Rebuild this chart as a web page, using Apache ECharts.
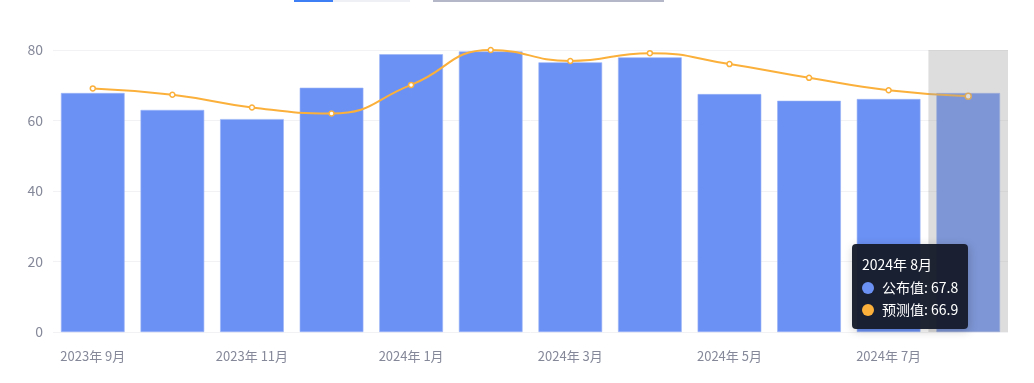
<!DOCTYPE html>
<html>
<head>
<meta charset="utf-8">
<script src="https://cdn.jsdelivr.net/npm/echarts@6/dist/echarts.min.js"></script>
<style>
html,body{margin:0;padding:0;background:#fff;}
#c{width:1034px;height:383px;}
</style>
</head>
<body>
<div id="c"></div>
<script>
const categories = ['2023年 9月','2023年 10月','2023年 11月','2023年 12月','2024年 1月','2024年 2月','2024年 3月','2024年 4月','2024年 5月','2024年 6月','2024年 7月','2024年 8月'];
const publishedValues = [67.8, 63.0, 60.4, 69.3, 78.8, 79.6, 76.5, 77.9, 67.5, 65.6, 66.1, 67.8];
const forecastValues = [69.1, 67.3, 63.7, 62.0, 70.1, 80.0, 76.9, 79.1, 76.0, 72.1, 68.6, 66.9];
const seriesNames = ['公布值', '预测值'];
const colors = ['#6b91f4', '#fbb03b'];

const chart = echarts.init(document.getElementById('c'));
chart.setOption({
  animation: false,
  grid: {left: 53, right: 26, top: 50, bottom: 51},
  graphic: [
    {type: 'rect', shape: {x: 294, y: 0, width: 116, height: 2}, style: {fill: '#eef0f6'}},
    {type: 'rect', shape: {x: 294, y: 0, width: 39, height: 2}, style: {fill: '#3f7ff5'}},
    {type: 'rect', shape: {x: 433, y: 0, width: 231, height: 2}, style: {fill: '#b3b7c8'}}
  ],
  tooltip: {
    trigger: 'axis',
    axisPointer: {type: 'shadow', z: 50, shadowStyle: {color: 'rgba(160,160,160,0.36)'}},
    backgroundColor: 'rgba(22,27,42,0.96)',
    borderWidth: 0,
    padding: [9, 10, 9, 10],
    textStyle: {color: '#fff', fontSize: 14, fontFamily: 'Noto Sans CJK SC'},
    position: function () { return [852, 244]; },
    formatter: function (params) {
      let s = '<div style="line-height:23px">' + params[0].axisValue + '</div>';
      params.forEach(function (p) {
        s += '<div style="line-height:22px"><span style="display:inline-block;width:12px;height:12px;border-radius:6px;background:' + colors[p.seriesIndex] + ';margin-right:8px;vertical-align:-1px"></span>' + p.seriesName + ': ' + p.value + '</div>';
      });
      return s;
    }
  },
  xAxis: {
    type: 'category',
    data: categories,
    axisLine: {show: false},
    axisTick: {show: false},
    axisLabel: {color: '#858899', fontSize: 13, margin: 18, interval: 1, fontFamily: 'Noto Sans CJK SC'}
  },
  yAxis: {
    type: 'value',
    min: 0, max: 80, interval: 20,
    axisLabel: {color: '#858899', fontSize: 14, margin: 10, fontFamily: 'Noto Sans CJK SC'},
    splitLine: {lineStyle: {color: '#f2f2f4'}}
  },
  series: [
    {
      name: seriesNames[0], type: 'bar', data: publishedValues,
      barCategoryGap: '20%',
      itemStyle: {color: colors[0], borderColor: '#9ab4f7', borderWidth: 0.6},
      emphasis: {disabled: true}
    },
    {
      name: seriesNames[1], type: 'line', data: forecastValues, smooth: true,
      symbol: 'circle', symbolSize: 5,
      itemStyle: {color: '#fff', borderColor: colors[1], borderWidth: 1.5},
      lineStyle: {color: colors[1], width: 2},
      emphasis: {disabled: true},
      clip: false
    }
  ]
});
setTimeout(function(){
  chart.dispatchAction({type: 'showTip', seriesIndex: 0, dataIndex: 11});
}, 50);
</script>
</body>
</html>
